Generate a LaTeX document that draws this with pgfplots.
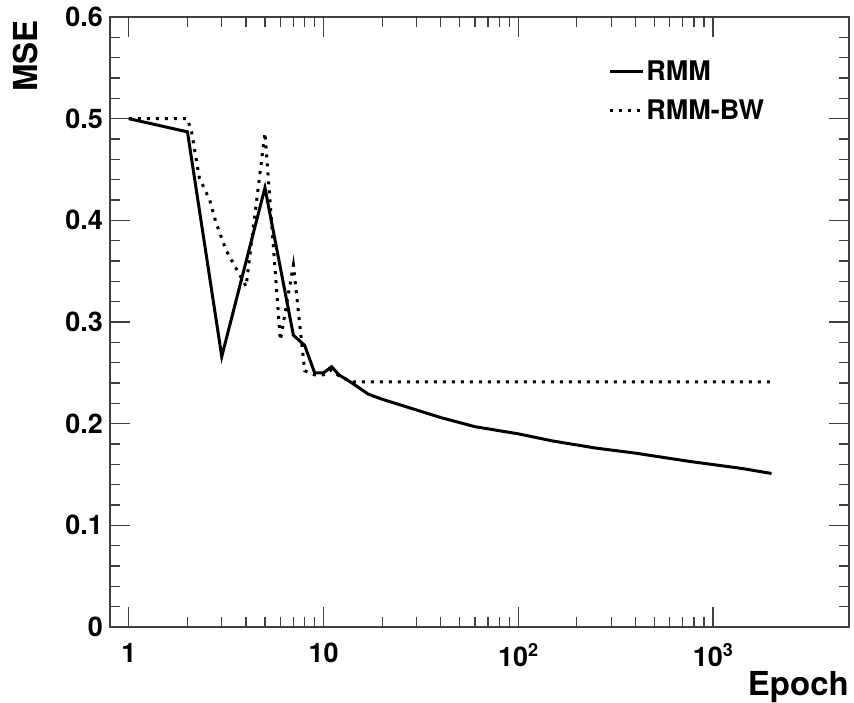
\documentclass[border=0pt]{standalone}
\usepackage{pgfplots}
\pgfplotsset{compat=1.18}
\usepackage{fontspec}
\setmainfont{TeX Gyre Heros}
\begin{document}
\begin{tikzpicture}[x=1pt,y=1pt]
\useasboundingbox (0,0) rectangle (854,703);
\begin{axis}[
  at={(110pt,76pt)}, anchor=south west,
  scale only axis, width=739pt, height=610pt,
  xmode=log, xmin=0.8, xmax=5000, ymin=0, ymax=0.6,
  xtick={1,10,100,1000},
  xticklabels={1,10,10\raisebox{10pt}{\fontsize{18}{18}\selectfont 2},10\raisebox{10pt}{\fontsize{18}{18}\selectfont 3}},
  ytick={0,0.1,0.2,0.3,0.4,0.5,0.6},
  yticklabels={0,0.1,0.2,0.3,0.4,0.5,0.6},
  minor y tick num=4,
  tick align=inside,
  major tick length=20pt, minor tick length=10pt,
  axis line style={black!75, line width=1.4pt},
  every tick/.style={black!75, line width=1.2pt},
  tick label style={font=\fontsize{27}{30}\selectfont\bfseries, inner sep=2pt},
  xticklabel style={yshift=-14pt},
  yticklabel style={xshift=-5pt},
  xlabel={Epoch}, ylabel={MSE},
  label style={font=\fontsize{33}{36}\selectfont\bfseries},
  xlabel style={at={(axis description cs:1,-0.1115)}, anchor=base east, inner sep=0pt},
  ylabel style={at={(axis description cs:-0.115,0.995)}, anchor=east, inner sep=0pt, rotate=0},
  legend style={draw=none, fill=none, at={(axis description cs:0.670,0.935)}, anchor=north west,
    font=\fontsize{27}{30}\selectfont\bfseries, row sep=14pt},
  legend cell align=left,
  legend image code/.code={\draw[#1] (0pt,0pt) -- (33pt,0pt);},
]
\addplot[black, line width=3pt, line join=miter] table {
1 0.500
2 0.487
3 0.266
5 0.432
7 0.287
8 0.277
9 0.250
10 0.250
11 0.256
12 0.248
14 0.240
17 0.229
20 0.224
40 0.206
60 0.197
100 0.190
150 0.183
250 0.176
400 0.171
750 0.163
1400 0.156
2000 0.151
};
\addlegendentry{RMM}
\addplot[black, line width=3pt, dash pattern=on 3pt off 6pt] table {
1 0.500
2 0.500
2.1 0.487
2.3 0.442
2.6 0.420
2.8 0.398
3.15 0.371
3.55 0.353
4 0.335
5 0.486
6 0.282
7 0.356
8 0.252
9 0.248
10 0.248
11 0.253
12 0.247
14 0.241
2000 0.241
};
\addlegendentry{RMM-BW}
\end{axis}
\end{tikzpicture}
\end{document}
